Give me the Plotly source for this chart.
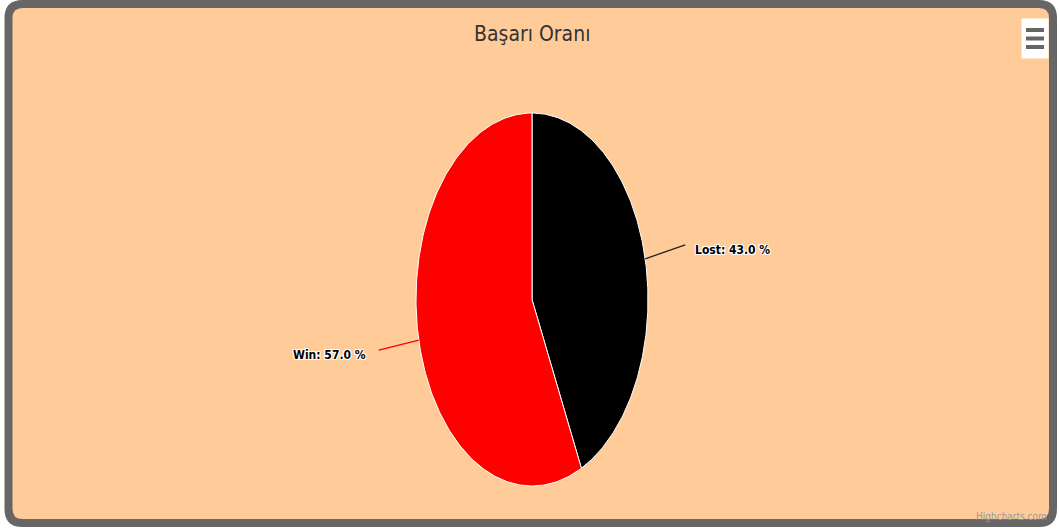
import numpy as np
import plotly.graph_objects as go

title = "Başarı Oranı"
labels = ["Lost", "Win"]
values = [43.0, 57.0]
colors = ["#000000", "#FF0000"]

W, H = 1059, 532
cx, cy, rx, ry = 532, 299.5, 116, 186.5
FONT = "DejaVu Sans Condensed, Liberation Sans Narrow, sans-serif"

fig = go.Figure()

total = sum(values)
start = 0.0
label_offsets = {"Lost": (40, -14), "Win": (-40, 10)}
for lab, val, col in zip(labels, values, colors):
    f0, f1 = start / total, (start + val) / total
    start += val
    th = np.linspace(f0, f1, 200) * 2 * np.pi
    xs = np.concatenate([[cx], cx + rx * np.sin(th), [cx]])
    ys = np.concatenate([[cy], cy - ry * np.cos(th), [cy]])
    fig.add_trace(go.Scatter(x=xs, y=ys, mode="lines", fill="toself", fillcolor=col,
                             line=dict(color="#FFFFFF", width=1), hoverinfo="skip",
                             showlegend=False))
    mid = (f0 + f1) / 2 * 2 * np.pi
    ex, ey = cx + rx * np.sin(mid), cy - ry * np.cos(mid)
    dx, dy = label_offsets[lab]
    lx, ly = ex + dx, ey + dy
    fig.add_trace(go.Scatter(x=[ex, lx], y=[ey, ly], mode="lines",
                             line=dict(color=col if col != "#000000" else "#222222", width=1.3),
                             hoverinfo="skip", showlegend=False))
    right = dx > 0
    fig.add_annotation(x=lx + (8 if right else -11), y=ly + 5, xref="x", yref="y",
                       text=f"<b>{lab}: {val:.1f} %</b>", showarrow=False,
                       xanchor="left" if right else "right", yanchor="middle",
                       font=dict(family=FONT, size=12, color="#000000",
                                 shadow="-1px -1px 0 #fff, 1px -1px 0 #fff, -1px 1px 0 #fff, 1px 1px 0 #fff"))

# chart frame (rounded border)
x0, y0, x1, y1, r = 8.5, 4, 1053, 523, 14
path = (f"M {x0+r},{y0} L {x1-r},{y0} Q {x1},{y0} {x1},{y0+r} L {x1},{y1-r} "
        f"Q {x1},{y1} {x1-r},{y1} L {x0+r},{y1} Q {x0},{y1} {x0},{y1-r} "
        f"L {x0},{y0+r} Q {x0},{y0} {x0+r},{y0} Z")
fig.add_shape(type="path", path=path, xref="x", yref="y", fillcolor="#FFCC99",
              line=dict(color="#666666", width=8), layer="below")

# export menu button
fig.add_shape(type="rect", x0=1022, y0=19, x1=1048, y1=58, xref="x", yref="y",
              fillcolor="#FFFFFF", line=dict(color="#FFFFFF", width=1))
for yy in (30, 38.5, 47):
    fig.add_shape(type="line", x0=1026, x1=1044, y0=yy, y1=yy, xref="x", yref="y",
                  line=dict(color="#666666", width=4))

fig.add_annotation(x=532, y=34, xref="x", yref="y", text=title, showarrow=False,
                   font=dict(family=FONT, size=21, color="#333333"))
fig.add_annotation(x=1049, y=516, xref="x", yref="y", text="Highcharts.com", showarrow=False,
                   xanchor="right", font=dict(family=FONT, size=10, color="#999999"))

fig.update_xaxes(range=[0, W], visible=False, fixedrange=True)
fig.update_yaxes(range=[H, 0], visible=False, fixedrange=True)
fig.update_layout(width=W, height=H, margin=dict(l=0, r=0, t=0, b=0),
                  paper_bgcolor="#FFFFFF", plot_bgcolor="rgba(0,0,0,0)")
fig.write_html("out.html", config={"displayModeBar": False},
               post_script="document.body.style.margin='0';document.body.style.overflow='hidden';")
